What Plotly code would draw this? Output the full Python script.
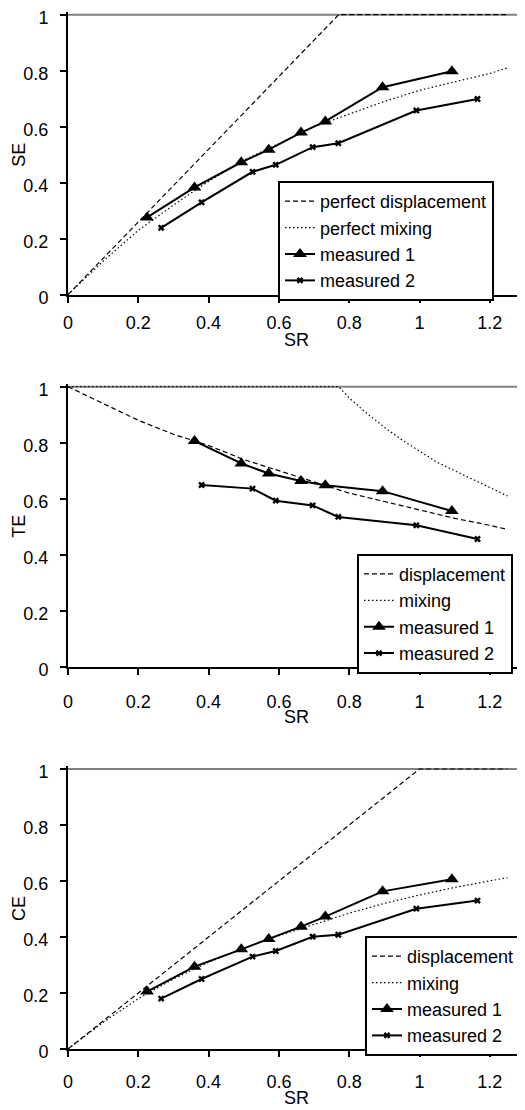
import plotly.graph_objects as go

# ---------------- data ----------------
sr_m1 = [0.225, 0.360, 0.493, 0.571, 0.663, 0.732, 0.895, 1.092]
sr_m2 = [0.265, 0.380, 0.525, 0.591, 0.696, 0.769, 0.991, 1.165]

se_m1 = [0.276, 0.383, 0.473, 0.518, 0.579, 0.619, 0.741, 0.798]
se_m2 = [0.239, 0.330, 0.439, 0.464, 0.527, 0.541, 0.658, 0.699]
te_m1 = [None, 0.806, 0.726, 0.690, 0.663, 0.648, 0.627, 0.556]
te_m2 = [None, 0.649, 0.636, 0.593, 0.576, 0.535, 0.505, 0.456]
ce_m1 = [0.205, 0.294, 0.356, 0.393, 0.437, 0.473, 0.563, 0.606]
ce_m2 = [0.180, 0.250, 0.330, 0.350, 0.401, 0.408, 0.501, 0.530]

sr_grid = [0, 0.1, 0.2, 0.3, 0.4, 0.5, 0.6, 0.7, 0.8, 0.9, 1.0, 1.1, 1.2, 1.25]

se_disp_x = [0, 0.77, 1.25]
se_disp_y = [0, 1, 1]
se_mix_y = [0, 0.12, 0.23, 0.32, 0.405, 0.48, 0.54, 0.60, 0.645, 0.69, 0.73, 0.76, 0.79, 0.81]

te_disp_y = [1, 0.94, 0.88, 0.83, 0.79, 0.74, 0.70, 0.66, 0.62, 0.59, 0.56, 0.53, 0.505, 0.49]
te_mix_x = [0, 0.77, 0.8, 0.85, 0.9, 0.95, 1.0, 1.05, 1.1, 1.15, 1.2, 1.25]
te_mix_y = [1, 1, 0.96, 0.905, 0.855, 0.81, 0.77, 0.73, 0.70, 0.67, 0.64, 0.61]

ce_disp_x = [0, 1.0, 1.25]
ce_disp_y = [0, 1, 1]
ce_mix_y = [0, 0.095, 0.18, 0.25, 0.31, 0.36, 0.405, 0.445, 0.485, 0.52, 0.55, 0.577, 0.60, 0.612]

x_ticks = [0, 0.2, 0.4, 0.6, 0.8, 1.0, 1.2]
x_ticktext = ["0", "0.2", "0.4", "0.6", "0.8", "1", "1.2"]
y_ticks = [0, 0.2, 0.4, 0.6, 0.8, 1.0]
y_ticktext = ["0", "0.2", "0.4", "0.6", "0.8", "1"]

panels = [
    dict(ytitle="SE", names=["perfect displacement", "perfect mixing", "measured 1", "measured 2"],
         disp=(se_disp_x, se_disp_y), mix=(sr_grid, se_mix_y), m1=se_m1, m2=se_m2),
    dict(ytitle="TE", names=["displacement", "mixing", "measured 1", "measured 2"],
         disp=(sr_grid, te_disp_y), mix=(te_mix_x, te_mix_y), m1=te_m1, m2=te_m2),
    dict(ytitle="CE", names=["displacement", "mixing", "measured 1", "measured 2"],
         disp=(ce_disp_x, ce_disp_y), mix=(sr_grid, ce_mix_y), m1=ce_m1, m2=ce_m2),
]

# ---------------- layout geometry ----------------
# the page body has an 8px default margin, so window pixels are shifted by OFF
OFF = 8.0
WIN_W, WIN_H = 525, 1110
W, H = int(WIN_W - OFF), int(WIN_H - OFF)
FONT = "Liberation Sans, Arial, sans-serif"
zero_px = [294.7, 666.7, 1049.0]      # window pixel row of y = 0 for each panel
px_per_unit = 280.0
ymax = 1.01
legend_pos = [(278.0, 181.0), (357.0, 553.7), (365.0, 936.0)]
xlabel_standoff = [5, 12, 9]
sr_title_px = [340.0, 717.0, 1098.0]

x_left = 68.0
x_px_per_unit = 351.5
xmax = (WIN_W - x_left) / x_px_per_unit


def px_x(v):
    return (v - OFF) / W


def px_y(v):
    return 1 - (v - OFF) / H


fig = go.Figure()
layout = dict(
    width=W, height=H,
    margin=dict(l=0, r=0, t=0, b=0, autoexpand=False),
    paper_bgcolor="white", plot_bgcolor="white",
    font=dict(family=FONT, size=18, color="black"),
    shapes=[], annotations=[], showlegend=True,
)

for i, p in enumerate(panels):
    k = "" if i == 0 else str(i + 1)
    xa, ya = "x" + k, "y" + k
    lg = "legend" + k
    bottom = zero_px[i]
    top = bottom - ymax * px_per_unit
    fig.add_trace(go.Scatter(x=p["disp"][0], y=p["disp"][1], mode="lines", name=p["names"][0],
                             line=dict(color="black", width=1.2, dash="5px,3px"),
                             xaxis=xa, yaxis=ya, legend=lg))
    fig.add_trace(go.Scatter(x=p["mix"][0], y=p["mix"][1], mode="lines", name=p["names"][1],
                             line=dict(color="black", width=1.2, dash="1.5px,2.5px"),
                             xaxis=xa, yaxis=ya, legend=lg))
    fig.add_trace(go.Scatter(x=sr_m1, y=p["m1"], mode="lines+markers", name=p["names"][2],
                             line=dict(color="black", width=2),
                             marker=dict(symbol="triangle-up", size=12, color="black"),
                             xaxis=xa, yaxis=ya, legend=lg, connectgaps=False))
    fig.add_trace(go.Scatter(x=sr_m2, y=p["m2"], mode="lines+markers", name=p["names"][3],
                             line=dict(color="black", width=2),
                             marker=dict(symbol="x", size=6, color="black"),
                             xaxis=xa, yaxis=ya, legend=lg, connectgaps=False))

    layout["xaxis" + k] = dict(
        domain=[px_x(x_left), 1], range=[0, xmax], anchor=ya, automargin=False,
        tickvals=x_ticks, ticktext=x_ticktext, ticklabeloverflow="allow",
        ticks="outside", ticklen=6, tickwidth=2, tickcolor="black",
        showline=True, linecolor="black", linewidth=2, showgrid=False, zeroline=False,
        tickfont=dict(size=18), ticklabelstandoff=xlabel_standoff[i],
    )
    layout["yaxis" + k] = dict(
        domain=[px_y(bottom), px_y(top)], range=[0, ymax], anchor=xa, automargin=False,
        tickvals=y_ticks, ticktext=y_ticktext, ticklabeloverflow="allow",
        ticks="outside", ticklen=6, tickwidth=2, tickcolor="black",
        showline=True, linecolor="black", linewidth=2, showgrid=False, zeroline=False,
        tickfont=dict(size=18), ticklabelstandoff=8, ticklabelshift=3,
    )
    layout["shapes"].append(dict(type="line", xref=xa + " domain", yref=ya,
                                 x0=0, x1=1, y0=1, y1=1, layer="below",
                                 line=dict(color="#808080", width=2)))
    # axis titles
    layout["annotations"].append(dict(text="SR", xref="paper", yref="paper",
                                      x=px_x(x_left + (WIN_W - x_left) / 2), y=px_y(sr_title_px[i]),
                                      xanchor="center", yanchor="middle", showarrow=False,
                                      font=dict(size=18)))
    mid = bottom - 0.5 * px_per_unit
    layout["annotations"].append(dict(text=p["ytitle"], xref="paper", yref="paper",
                                      x=px_x(19.0), y=px_y(mid), textangle=-90,
                                      xanchor="center", yanchor="middle", showarrow=False,
                                      font=dict(size=18)))
    lx, ly = legend_pos[i]
    layout[lg] = dict(x=px_x(lx), y=px_y(ly), xanchor="left", yanchor="top",
                      bgcolor="white", bordercolor="black", borderwidth=2,
                      font=dict(size=18, family=FONT), tracegroupgap=0,
                      itemwidth=30)

fig.update_layout(**layout)
fig.write_html("out.html")
